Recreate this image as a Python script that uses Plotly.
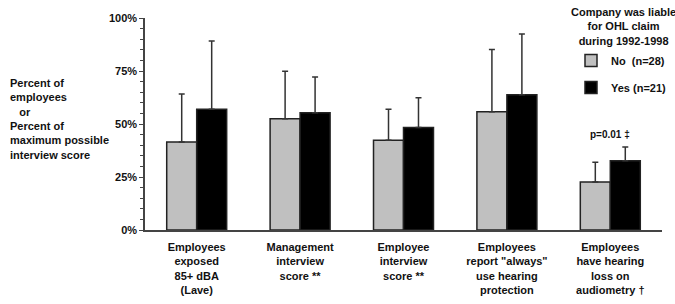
import plotly.graph_objects as go

categories = [
    "Employees<br>exposed<br>85+ dBA<br>(Lave)",
    "Management<br>interview<br>score **",
    "Employee<br>interview<br>score **",
    "Employees<br>report \"always\"<br>use hearing<br>protection",
    "Employees<br>have hearing<br>loss on<br>audiometry †",
]
no_values = [41.5, 52.5, 42.3, 55.8, 22.6]
no_err = [22.7, 22.4, 14.6, 29.4, 9.3]
yes_values = [56.9, 55.3, 48.3, 63.8, 32.7]
yes_err = [32.3, 16.9, 14.1, 28.7, 6.5]
ytick_vals = [0, 25, 50, 75, 100]
ytick_text = ["0%", "25%", "50%", "75%", "100%"]

FONT = "Arial, Liberation Sans, sans-serif"
x_idx = list(range(len(categories)))

fig = go.Figure()
fig.add_trace(go.Bar(
    x=x_idx, y=no_values, name="<b>No&nbsp;&nbsp;(n=28)</b>", legendgroup="no",
    marker=dict(color="#c0c0c0", line=dict(color="#222", width=1.5)),
    error_y=dict(type="data", array=no_err, arrayminus=[0]*5, symmetric=False,
                 color="#333", thickness=1.5, width=3),
))
fig.add_trace(go.Bar(
    x=x_idx, y=yes_values, name="<b>Yes (n=21)</b>", legendgroup="yes",
    marker=dict(color="#000000", line=dict(color="#222", width=1.5)),
    error_y=dict(type="data", array=yes_err, arrayminus=[0]*5, symmetric=False,
                 color="#333", thickness=1.5, width=3),
))

fig.update_layout(
    width=675, height=304,
    margin=dict(l=145, r=13, t=18, b=74, autoexpand=False),
    barmode="group", bargap=0.42, bargroupgap=0,
    plot_bgcolor="white", paper_bgcolor="white",
    font=dict(family=FONT, size=11, color="#111"),
    showlegend=True,
    legend=dict(
        x=(571 - 145) / 517, xanchor="left", y=0.868, yanchor="top",
        font=dict(size=11, family=FONT),
        tracegroupgap=8, itemwidth=30,
        bgcolor="rgba(0,0,0,0)",
    ),
    xaxis=dict(
        range=[-0.5, 4.5], tickmode="array", tickvals=x_idx,
        ticktext=["<b>" + c.replace("<br>", "</b><br><b>") + "</b>" for c in categories],
        showline=True, linecolor="#444", linewidth=1.5, ticks="",
        showgrid=False, zeroline=False, tickfont=dict(size=11),
        ticklabelstandoff=6,
    ),
    yaxis=dict(
        range=[0, 100], tickmode="array", tickvals=ytick_vals,
        ticktext=["<b>" + t + "</b>" for t in ytick_text],
        showline=True, linecolor="#444", linewidth=1.5, ticks="outside",
        ticklen=4, tickwidth=1.2, tickcolor="#444",
        minor=dict(dtick=5, ticks="outside", ticklen=3, tickcolor="#444", tickwidth=1),
        showgrid=False, zeroline=False, tickfont=dict(size=11),
    ),
)

fig.add_annotation(
    xref="paper", yref="paper", x=(623 - 145) / 517, y=(230 - 26) / 212,
    xanchor="center", yanchor="middle", align="center", showarrow=False,
    text="<b>Company was liable<br>for OHL claim<br>during 1992-1998</b>",
    font=dict(size=11),
)
fig.add_annotation(
    xref="paper", yref="paper", x=-(145 - 8) / 517, y=0.5,
    xanchor="left", yanchor="middle", align="left", showarrow=False, yshift=5,
    text="<b>Percent of<br>employees<br>&nbsp;&nbsp;&nbsp;or<br>Percent of<br>maximum possible<br>interview score</b>",
    font=dict(size=11),
)
fig.add_annotation(
    x=4, y=yes_values[4] + yes_err[4], xref="x", yref="y",
    text="<b>p=0.01 ‡</b>", showarrow=False, xshift=0, yshift=12,
    font=dict(size=10),
)

fig.write_html("out.html")
